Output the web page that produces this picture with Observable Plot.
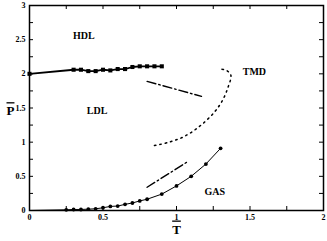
<!DOCTYPE html>
<html><head><meta charset="utf-8">
<script src="https://cdn.jsdelivr.net/npm/d3@7"></script>
<script src="https://cdn.jsdelivr.net/npm/@observablehq/plot@0.6"></script>
<style>body{margin:0;background:#fff}</style>
</head><body><div id="chart"></div>
<script>
// HDL-LDL transition line (squares)
const hdlT = [0, 0.3, 0.35, 0.4, 0.45, 0.5, 0.55, 0.6, 0.65, 0.7, 0.75, 0.8, 0.85, 0.9];
const hdlP = [2.0, 2.06, 2.06, 2.04, 2.04, 2.06, 2.05, 2.07, 2.07, 2.10, 2.11, 2.11, 2.11, 2.11];
// Gas-liquid line (circles)
const gasT = [0, 0.25, 0.3, 0.35, 0.4, 0.45, 0.5, 0.55, 0.6, 0.65, 0.7, 0.75, 0.8, 0.9, 1.0, 1.1, 1.2, 1.3];
const gasP = [0, 0.01, 0.015, 0.015, 0.02, 0.025, 0.04, 0.06, 0.065, 0.09, 0.11, 0.14, 0.165, 0.24, 0.36, 0.50, 0.68, 0.91];
// dash-dot lines
const upperDashT = [0.8, 1.17];
const upperDashP = [1.89, 1.67];
const lowerDashT = [0.8, 1.08];
const lowerDashP = [0.34, 0.72];
// TMD dotted line
const tmdT = [0.85, 0.95, 1.05, 1.15, 1.25, 1.31, 1.35, 1.37, 1.34, 1.30];
const tmdP = [0.95, 1.0, 1.08, 1.22, 1.42, 1.6, 1.8, 1.98, 2.05, 2.07];
// region labels
const labelText = ["HDL", "LDL", "TMD", "GAS"];
const labelT = [0.37, 0.46, 1.53, 1.26];
const labelP = [2.56, 1.46, 2.03, 0.27];
// ticks
const xTicks = [0, 0.25, 0.5, 0.75, 1, 1.25, 1.5, 1.75, 2];
const yTicks = [0, 0.25, 0.5, 0.75, 1, 1.25, 1.5, 1.75, 2, 2.25, 2.5, 2.75, 3];
const xLabelTicks = [0, 0.5, 1, 1.5, 2];
const yLabelTicks = [0, 0.5, 1, 1.5, 2, 2.5, 3];

const zip = (xs, ys) => xs.map((x, i) => ({x, y: ys[i]}));
const hdl = zip(hdlT, hdlP);
const gas = zip(gasT, gasP);
const upper = zip(upperDashT, upperDashP);
const lower = zip(lowerDashT, lowerDashP);
const tmd = zip(tmdT, tmdP);
const labels = labelText.map((t, i) => ({t, x: labelT[i], y: labelP[i]}));

const W = 327, H = 241, mL = 29, mR = 4, mT = 5, mB = 31;
const fw = W - mL - mR, fh = H - mT - mB, tl = 4;
const fmt = d => d3.format("~g")(d);

const chart = Plot.plot({
  width: W, height: H,
  marginLeft: mL, marginRight: mR, marginTop: mT, marginBottom: mB,
  style: {fontFamily: "Liberation Serif, serif", background: "#fff"},
  x: {domain: [0, 2]},
  y: {domain: [0, 3]},
  marks: [
    Plot.axisX(xLabelTicks, {anchor: "bottom", tickSize: 0, tickPadding: 4, tickFormat: fmt, fontSize: 8, fontWeight: "bold", label: null}),
    Plot.axisY(yLabelTicks, {anchor: "left", tickSize: 0, tickPadding: 4, tickFormat: fmt, fontSize: 8, fontWeight: "bold", label: null}),
    Plot.tickX(xTicks, {x: d => d, insetTop: fh - tl, stroke: "#000"}),
    Plot.tickX(xTicks, {x: d => d, insetBottom: fh - tl, stroke: "#000"}),
    Plot.tickY(yTicks, {y: d => d, insetRight: fw - tl, stroke: "#000"}),
    Plot.tickY(yTicks, {y: d => d, insetLeft: fw - tl, stroke: "#000"}),
    Plot.frame({stroke: "#000", strokeWidth: 1.5}),
    Plot.line(hdl, {x: "x", y: "y", stroke: "#000", strokeWidth: 1.8}),
    Plot.dot(hdl, {x: "x", y: "y", symbol: "square", r: 2.3, fill: "#000", stroke: "none"}),
    Plot.line(gas, {x: "x", y: "y", stroke: "#000", strokeWidth: 1}),
    Plot.dot(gas.slice(1), {x: "x", y: "y", r: 1.9, fill: "#000", stroke: "none"}),
    Plot.line(upper, {x: "x", y: "y", stroke: "#000", strokeWidth: 1.4, strokeDasharray: "9,3,1.5,3"}),
    Plot.line(lower, {x: "x", y: "y", stroke: "#000", strokeWidth: 1.4, strokeDasharray: "9,3,1.5,3"}),
    Plot.line(tmd, {x: "x", y: "y", stroke: "#000", strokeWidth: 1.5, strokeDasharray: "1.5,4", curve: "catmull-rom"}),
    Plot.text(labels, {x: "x", y: "y", text: "t", fontSize: 10, fontWeight: "bold", fill: "#000"}),
    Plot.text(["P"], {frameAnchor: "left", dx: -23, dy: 3, fontSize: 13, fontWeight: "bold", fill: "#000"}),
    Plot.text(["T"], {frameAnchor: "bottom", dy: 23, fontSize: 13, fontWeight: "bold", fill: "#000"})
  ]
});
d3.select(chart).selectAll("text").filter(function() { return this.textContent === "P" || this.textContent === "T"; })
  .style("text-decoration", "overline");
document.getElementById("chart").appendChild(chart);
</script>
</body></html>
